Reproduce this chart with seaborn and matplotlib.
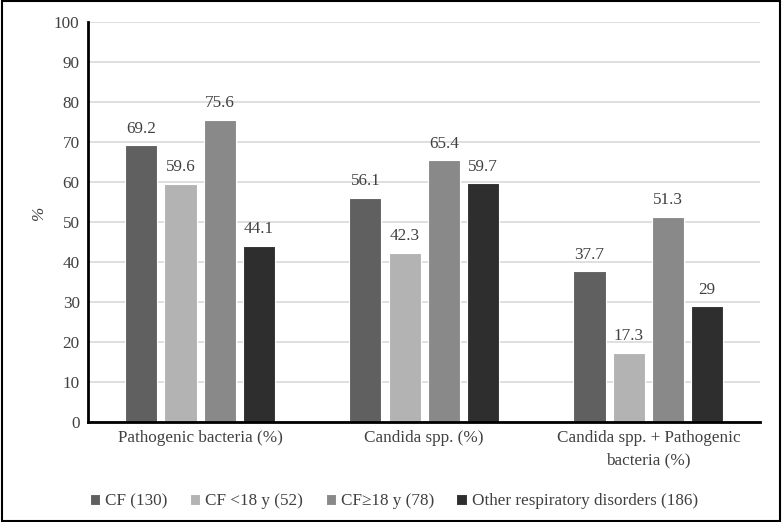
import matplotlib
matplotlib.use("Agg")
import matplotlib.pyplot as plt
import seaborn as sns
import pandas as pd
from matplotlib.patches import Rectangle

categories = ["Pathogenic bacteria (%)", "Candida spp. (%)", "Candida spp. + Pathogenic\nbacteria (%)"]
series = ["CF (130)", "CF <18 y (52)", "CF\u226518 y (78)", "Other respiratory disorders (186)"]
cf_all = [69.2, 56.1, 37.7]
cf_young = [59.6, 42.3, 17.3]
cf_adult = [75.6, 65.4, 51.3]
other = [44.1, 59.7, 29]
labels = [["69.2", "56.1", "37.7"], ["59.6", "42.3", "17.3"], ["75.6", "65.4", "51.3"], ["44.1", "59.7", "29"]]
colors = ["#606060", "#b3b3b3", "#898989", "#2e2e2e"]

rows = []
for s, vals in zip(series, [cf_all, cf_young, cf_adult, other]):
    for c, v in zip(categories, vals):
        rows.append({"cat": c, "series": s, "value": v})
df = pd.DataFrame(rows)

sns.set_style("white")
plt.rcParams["font.family"] = ["Liberation Serif", "DejaVu Serif"]

FS = 12.3
fig = plt.figure(figsize=(7.82, 5.22), dpi=100)
ax = fig.add_axes([0.1125, 0.1916, 0.86, 0.7664])
sns.barplot(data=df, x="cat", y="value", hue="series", order=categories, hue_order=series,
            palette=colors, width=0.7, gap=0.18, ax=ax, saturation=1, edgecolor="white", linewidth=0.8,
            errorbar=None)

for cont, labs in zip(ax.containers, labels):
    ax.bar_label(cont, labels=labs, padding=6, fontsize=FS, color="#404040")

ax.set_ylim(0, 100)
ax.set_yticks(range(0, 101, 10))
ax.set_xlim(-0.5, 2.5)
ax.yaxis.grid(True, color="#d9d9d9", linewidth=1.2)
ax.set_axisbelow(True)
for side in ["top", "right"]:
    ax.spines[side].set_visible(False)
for side in ["left", "bottom"]:
    ax.spines[side].set_color("black")
    ax.spines[side].set_linewidth(2)
ax.tick_params(axis="both", labelsize=FS, colors="#404040", length=0, pad=6)
for t in ax.get_xticklabels():
    t.set_linespacing(1.5)
ax.set_xlabel("")
ax.set_ylabel("%", fontsize=FS, fontstyle="italic", color="#404040")
ax.yaxis.set_label_coords(-0.061, 0.52)

ax.legend(loc="upper center", bbox_to_anchor=(0.455, -0.14), ncol=4, frameon=False,
          fontsize=FS, handlelength=0.6, handleheight=0.6, handletextpad=0.3, columnspacing=1.3,
          labelcolor="#404040")

fig.patches.append(Rectangle((0.002, 0.002), 0.996, 0.996, transform=fig.transFigure,
                             fill=False, edgecolor="black", linewidth=1.5))

fig.savefig("out.png", dpi=100)
